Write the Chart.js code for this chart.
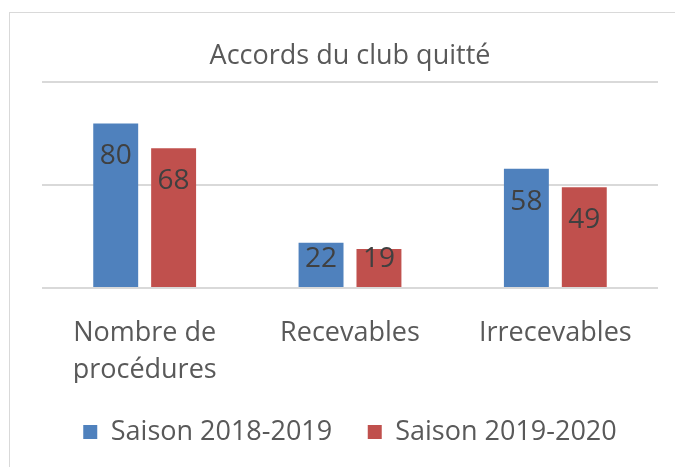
<!DOCTYPE html>
<html>
<head>
<meta charset="utf-8">
<script src="https://cdn.jsdelivr.net/npm/chart.js@4"></script>
<style>
  html, body { margin: 0; padding: 0; background: #fff; }
  #wrap { position: relative; width: 675px; height: 467px; overflow: hidden; }
  #frame { position: absolute; left: 9px; top: 12px; width: 700px; height: 500px; border: 1px solid #d9d9d9; box-sizing: border-box; }
  canvas { position: absolute; left: 0; top: 0; }
</style>
</head>
<body>
<div id="wrap">
  <div id="frame"></div>
  <canvas id="chart" width="675" height="467"></canvas>
</div>
<script>
// données
const categories = [['Nombre de', 'procédures'], 'Recevables', 'Irrecevables'];
const saison1819 = [80, 22, 58];
const saison1920 = [68, 19, 49];
const seriesNames = ['Saison 2018-2019', 'Saison 2019-2020'];
const yTicks = [0, 50, 100];

const FONT = '"Open Sans", sans-serif';
const TEXT = '#595959';

// étiquettes de valeur à l'intérieur du haut des barres
const valueLabels = {
    id: 'valueLabels',
    afterDatasetsDraw(chart) {
        const ctx = chart.ctx;
        ctx.save();
        ctx.font = '28px ' + FONT;
        ctx.fillStyle = '#404040';
        ctx.textAlign = 'center';
        ctx.textBaseline = 'middle';
        chart.data.datasets.forEach((ds, i) => {
            chart.getDatasetMeta(i).data.forEach((bar, j) => {
                const y = Math.min(bar.y + 33, bar.base - 28);
                ctx.fillText(String(ds.data[j]), bar.x, y);
            });
        });
        ctx.restore();
    }
};

new Chart(document.getElementById('chart'), {
    type: 'bar',
    data: {
        labels: categories,
        datasets: [
            { label: seriesNames[0], data: saison1819, backgroundColor: '#4F81BD' },
            { label: seriesNames[1], data: saison1920, backgroundColor: '#C0504D' }
        ]
    },
    options: {
        responsive: false,
        animation: false,
        devicePixelRatio: 1,
        categoryPercentage: 0.564,
        barPercentage: 0.776,
        layout: { padding: { left: 42, right: 17, top: 0, bottom: 11.5 } },
        plugins: {
            title: {
                display: true,
                text: 'Accords du club quitté',
                color: TEXT,
                font: { family: FONT, size: 27, weight: 'normal' },
                padding: { top: 40, bottom: 10 }
            },
            legend: {
                position: 'bottom',
                labels: {
                    color: TEXT,
                    font: { family: FONT, size: 27 },
                    boxWidth: 14,
                    boxHeight: 14,
                    padding: 35.5
                }
            },
            tooltip: { enabled: false }
        },
        scales: {
            x: {
                grid: { display: false },
                border: { display: false },
                ticks: {
                    color: TEXT,
                    font: { family: FONT, size: 27, lineHeight: 1.37 },
                    padding: 19,
                    maxRotation: 0
                },
                afterFit: s => { s.height = 95; }
            },
            y: {
                min: yTicks[0],
                max: yTicks[yTicks.length - 1],
                afterBuildTicks: axis => { axis.ticks = yTicks.map(v => ({ value: v })); },
                grid: { color: '#d9d9d9', lineWidth: 2, drawTicks: false },
                border: { display: false },
                ticks: { display: false }
            }
        }
    },
    plugins: [valueLabels]
});
</script>
</body>
</html>
